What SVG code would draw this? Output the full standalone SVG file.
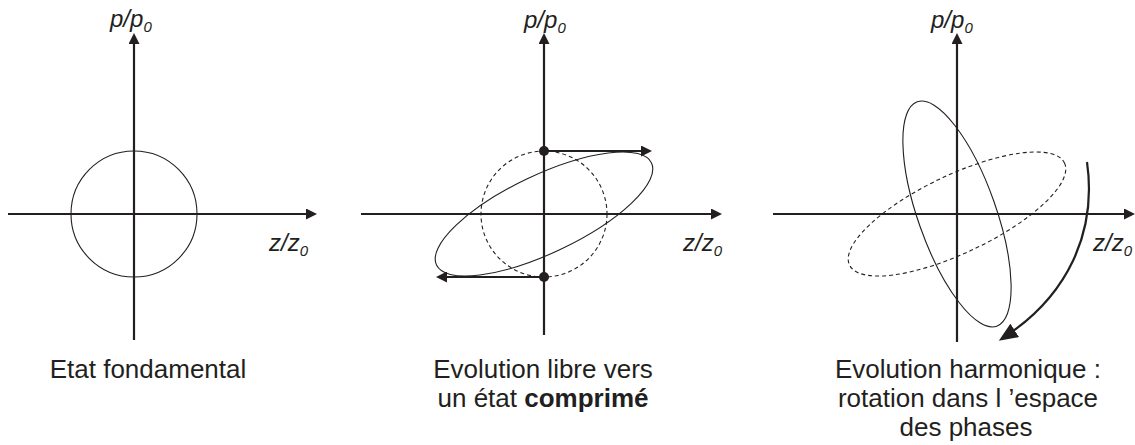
<svg xmlns="http://www.w3.org/2000/svg" width="1135" height="445" viewBox="0 0 1135 445">
<defs>
<style>
.ax{stroke:#231f20;stroke-width:2.2;fill:none}
.thin{stroke:#231f20;stroke-width:1.1;fill:none}
.dash{stroke:#231f20;stroke-width:1.1;fill:none;stroke-dasharray:4 3}
.lbl{font-family:"Liberation Sans",Arial,sans-serif;font-size:24px;font-style:italic;fill:#231f20}
.sub{font-size:15px}
.cap{font-family:"Liberation Sans",Arial,sans-serif;font-size:26px;fill:#231f20;text-anchor:middle}
</style>
<marker id="ah" markerUnits="userSpaceOnUse" markerWidth="12" markerHeight="11" refX="7" refY="5.5" orient="auto">
<path d="M0,0 L11,5.5 L0,11 Z" fill="#231f20"/>
</marker>
<marker id="ahb" markerUnits="userSpaceOnUse" markerWidth="20" markerHeight="16" refX="14" refY="8" orient="auto">
<path d="M0,0 L19,8 L0,16 Z" fill="#231f20"/>
</marker>
</defs>

<g id="panel1">
<line class="ax" x1="134" y1="340" x2="134" y2="37" marker-end="url(#ah)"/>
<line class="ax" x1="8" y1="214" x2="313" y2="214" marker-end="url(#ah)"/>
<circle class="thin" cx="134" cy="214" r="63"/>
<text class="lbl" x="110" y="27">p/p<tspan class="sub" dy="5">0</tspan></text>
<text class="lbl" x="269" y="251">z/z<tspan class="sub" dy="5">0</tspan></text>
<text class="cap" x="148" y="378">Etat fondamental</text>
</g>

<g id="panel2">
<line class="ax" x1="544" y1="335" x2="544" y2="37" marker-end="url(#ah)"/>
<line class="ax" x1="361" y1="214" x2="718" y2="214" marker-end="url(#ah)"/>
<circle class="dash" cx="544" cy="214" r="63"/>
<ellipse class="thin" cx="544" cy="214" rx="119" ry="39" transform="rotate(-25.4 544 214)"/>
<text class="lbl" x="524" y="28">p/p<tspan class="sub" dy="5">0</tspan></text>
<text class="lbl" x="683" y="251">z/z<tspan class="sub" dy="5">0</tspan></text>
<text class="cap" x="543" y="378">Evolution libre vers</text>
<text class="cap" x="543" y="407">un état <tspan font-weight="bold">comprimé</tspan></text>
</g>

<g id="panel3">
<line class="ax" x1="957" y1="342" x2="957" y2="37" marker-end="url(#ah)"/>
<line class="ax" x1="773" y1="214" x2="1131" y2="214" marker-end="url(#ah)"/>
<ellipse class="dash" cx="957" cy="214" rx="119" ry="39" transform="rotate(-25.4 957 214)"/>
<ellipse class="thin" cx="957" cy="214" rx="119" ry="39" transform="rotate(70.5 957 214)"/>
<text class="lbl" x="931" y="28">p/p<tspan class="sub" dy="5">0</tspan></text>
<text class="lbl" x="1093" y="251">z/z<tspan class="sub" dy="5">0</tspan></text>
<text class="cap" x="968" y="378">Evolution harmonique :</text>
<text class="cap" x="968" y="407">rotation dans l ’espace</text>
<text class="cap" x="966" y="436">des phases</text>
</g>

<g id="connectors">
<line class="ax" x1="544" y1="151" x2="648" y2="151" marker-end="url(#ah)"/>
<line class="ax" x1="544" y1="277" x2="440" y2="277" marker-end="url(#ah)"/>
<circle cx="544" cy="151" r="5" fill="#231f20"/>
<circle cx="544" cy="277" r="5" fill="#231f20"/>
<path class="ax" d="M1087,162 C1097,232 1068,296 1003,338" marker-end="url(#ahb)"/>
</g>
</svg>
